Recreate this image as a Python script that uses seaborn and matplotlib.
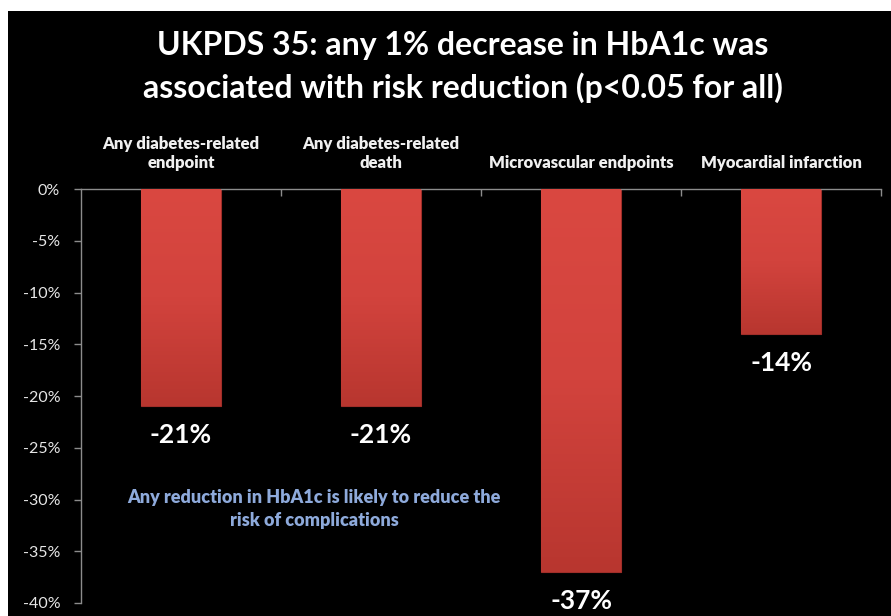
import matplotlib
matplotlib.use("Agg")
import matplotlib.pyplot as plt
import matplotlib.patches as mpatches
import numpy as np
import pandas as pd
import seaborn as sns

categories = [
    "Any diabetes-related\nendpoint",
    "Any diabetes-related\ndeath",
    "Microvascular endpoints",
    "Myocardial infarction",
]
risk_change = [-21, -21, -37, -14]
value_labels = ["-21%", "-21%", "-37%", "-14%"]
y_ticks = [0, -5, -10, -15, -20, -25, -30, -35, -40]
y_tick_labels = ["0%", "-5%", "-10%", "-15%", "-20%", "-25%", "-30%", "-35%", "-40%"]

title_text = "UKPDS 35: any 1% decrease in HbA1c was\nassociated with risk reduction (p<0.05 for all)"
note_text = "Any reduction in HbA1c is likely to reduce the\nrisk of complications"

sns.set_theme(style="dark")
plt.rcParams["font.family"] = ["Lato", "DejaVu Sans"]

W, H = 891, 616
fig = plt.figure(figsize=(W / 100, H / 100), dpi=100, facecolor="white")

# black slide background with a thin white margin on the top and left
fig.patches.append(mpatches.Rectangle((8 / W, 0), 1 - 8 / W, 1 - 11 / H,
                                      transform=fig.transFigure, facecolor="black",
                                      edgecolor="none", zorder=-5))

ax = fig.add_axes([81 / W, 1 - 603 / H, 800 / W, 414 / H])
ax.set_zorder(1)
ax.set_facecolor("black")

df = pd.DataFrame({"category": categories, "value": risk_change})
sns.barplot(data=df, x="category", y="value", color="#D0403A", width=0.4,
            saturation=1, ax=ax, zorder=2)

# vertical shading on each bar
grad = np.linspace(0, 1, 256).reshape(-1, 1)
cmap = matplotlib.colors.LinearSegmentedColormap.from_list(
    "barshade", ["#B8362F", "#D2433D", "#DA4841"])
for patch in ax.patches:
    x0, y0 = patch.get_x(), patch.get_y()
    w, h = patch.get_width(), patch.get_height()
    ylo, yhi = min(y0, y0 + h), max(y0, y0 + h)
    im = ax.imshow(grad, cmap=cmap, aspect="auto", origin="lower",
                   extent=(x0, x0 + w, ylo, yhi), zorder=3)
    im.set_clip_path(patch)
    patch.set_edgecolor("#A02E29")
    patch.set_linewidth(0.8)

ax.set_xlim(-0.5, 3.5)
ax.set_ylim(-40, 0)

# spines: left axis and the zero line at the top
for side in ("bottom", "right"):
    ax.spines[side].set_visible(False)
for side in ("left", "top"):
    ax.spines[side].set_visible(True)
    ax.spines[side].set_color("#8C8C8C")
    ax.spines[side].set_linewidth(1.0)

ax.set_yticks(y_ticks)
ax.set_yticklabels(y_tick_labels, color="#E6E6E6", fontsize=11.5)
ax.tick_params(axis="y", left=True, length=5, width=1, color="#8C8C8C", pad=10, direction="out")

ax.xaxis.tick_top()
ax.set_xticks(range(len(categories)))
ax.set_xticklabels(categories, color="#F0F0F0", fontsize=12, fontweight="heavy",
                   linespacing=1.2)
ax.tick_params(axis="x", top=True, bottom=False, length=0, pad=13)
ax.set_xticks([0.5, 1.5, 2.5, 3.5], minor=True)
ax.tick_params(axis="x", which="minor", top=True, bottom=False, direction="in",
               length=5, width=1, color="#8C8C8C")
ax.set_xlabel("")
ax.set_ylabel("")
ax.grid(False)

for i, (v, lab) in enumerate(zip(risk_change, value_labels)):
    ax.annotate(lab, xy=(i, v), xytext=(0, -12), textcoords="offset points",
                ha="center", va="top", color="white", fontsize=19, fontweight="bold")

ax.text(0.665, -30.9, note_text, ha="center", va="center", color="#8EAADB",
        fontsize=13, fontweight="heavy", linespacing=1.45)

fig.text(463 / W, 1 - 67 / H, title_text, ha="center", va="center", color="white",
         fontsize=23, fontweight="bold", linespacing=1.45)

fig.savefig("out.png", dpi=100, facecolor=fig.get_facecolor())
